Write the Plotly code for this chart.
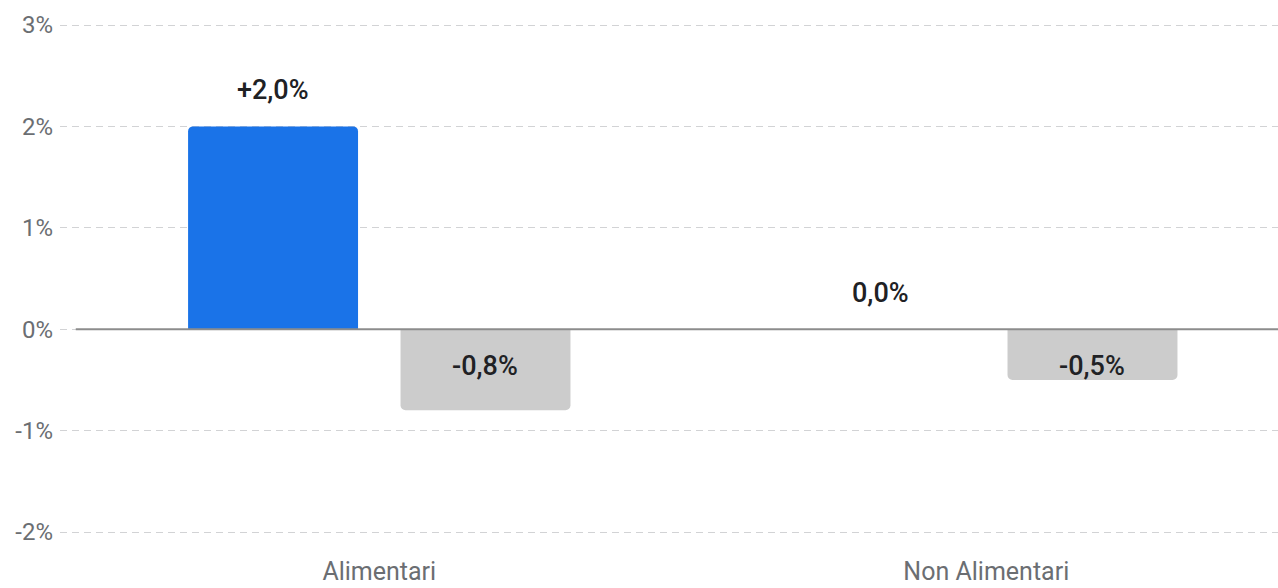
import plotly.graph_objects as go

# Variazione percentuale per reparto
categories = ["Alimentari", "Non Alimentari"]
series_a = [2.0, 0.0]
series_b = [-0.8, -0.5]
y_ticks = [-2, -1, 0, 1, 2, 3]
y_tick_labels = ["-2%", "-1%", "0%", "1%", "2%", "3%"]

BLUE = "#1a73e8"
GREY_BAR = "#cccccc"
LABEL = "#202124"
AXIS_TEXT = "#6b6e72"
FONT = "Roboto"


def fmt(v, signed):
    s = f"{abs(v):.1f}".replace(".", ",") + "%"
    if v < 0:
        return "-" + s
    if signed and v > 0:
        return "+" + s
    return s


fig = go.Figure()
fig.add_trace(go.Bar(x=categories, y=series_a, marker=dict(color=BLUE, line=dict(width=0)),
                     hoverinfo="skip"))
fig.add_trace(go.Bar(x=categories, y=series_b, marker=dict(color=GREY_BAR, line=dict(width=0)),
                     hoverinfo="skip"))

# value labels: blue above the bar, grey inside just under the zero line
for i, c in enumerate(categories):
    fig.add_annotation(x=i, y=series_a[i], xref="x", yref="y", text=fmt(series_a[i], True),
                       showarrow=False, xshift=-106, yshift=36,
                       font=dict(family=FONT, size=27, color=LABEL, weight=500))
    fig.add_annotation(x=i, y=0, xref="x", yref="y", text=fmt(series_b[i], False),
                       showarrow=False, xshift=106, yshift=-37,
                       font=dict(family=FONT, size=27, color=LABEL, weight=500))

# zero baseline
fig.add_shape(type="line", xref="x", yref="y", x0=-0.5, x1=1.6, y0=0, y1=0,
              line=dict(color="#8c8c8c", width=2), layer="above")

ppu = 101.4
top, bottom = 20, 537
span = (bottom - top) / ppu
ymax = 3 + 5 / ppu
fig.update_layout(
    width=1278, height=588,
    margin=dict(l=60, r=0, t=top, b=588 - bottom),
    plot_bgcolor="white", paper_bgcolor="white",
    showlegend=False,
    barmode="group", bargap=0.30, bargroupgap=0.20, barcornerradius=5,
    font=dict(family=FONT),
    xaxis=dict(range=[-0.526, 1.4806], showgrid=False, zeroline=False, showline=False,
               ticks="", tickfont=dict(size=25, color=AXIS_TEXT), ticklabelstandoff=17,
               automargin=False),
    yaxis=dict(range=[ymax - span, ymax], tickvals=y_ticks, ticktext=y_tick_labels,
               showgrid=True, gridcolor="#d2d3d5", gridwidth=1, griddash="7px,5px",
               zeroline=False, showline=False, ticks="",
               tickfont=dict(size=24, color=AXIS_TEXT), ticklabelstandoff=6,
               automargin=False),
)

fig.write_html("out.html")
